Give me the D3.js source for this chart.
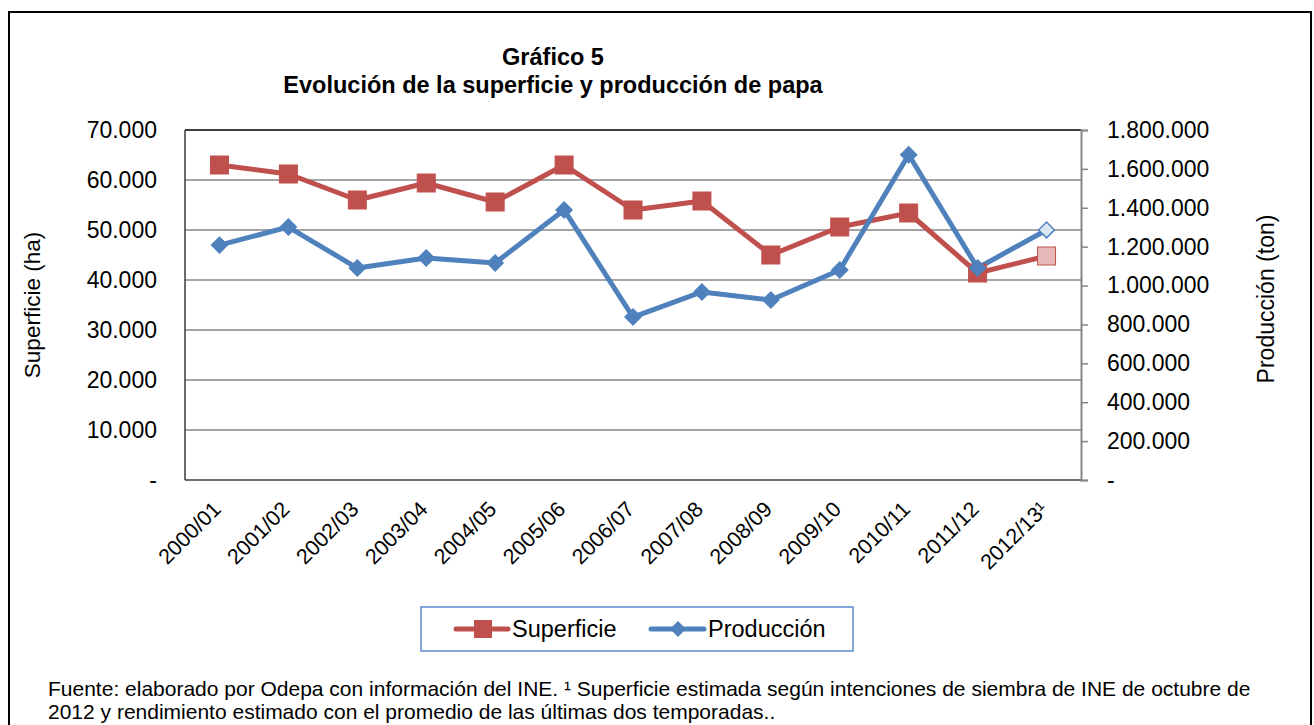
<!DOCTYPE html>
<html>
<head>
<meta charset="utf-8">
<script src="https://cdn.jsdelivr.net/npm/d3@7"></script>
<style>
  body { margin: 0; background: #fff; }
  svg text { font-family: "Liberation Sans", Arial, sans-serif; fill: #000; }
</style>
</head>
<body>
<div id="chart"></div>
<script>
// temporadas
var categories = ["2000/01", "2001/02", "2002/03", "2003/04", "2004/05", "2005/06", "2006/07",
  "2007/08", "2008/09", "2009/10", "2010/11", "2011/12", "2012/13\u00b9"];
// superficie (ha)
var superficie = [63000, 61200, 56000, 59400, 55600, 63000, 54000, 55800, 45000, 50600, 53400, 41400, 44800];
// produccion (ton)
var produccion = [1208000, 1301000, 1090000, 1142000, 1116000, 1389000, 838000, 967000, 926000, 1080000, 1673000, 1090000, 1286000];
var leftTicks = [0, 10000, 20000, 30000, 40000, 50000, 60000, 70000];
var rightTicks = [0, 200000, 400000, 600000, 800000, 1000000, 1200000, 1400000, 1600000, 1800000];

var W = 1314, H = 725;
var RED = "#C0504D", BLUE = "#4F81BD";
var plot = {left: 185, right: 1081, top: 130, bottom: 480};

var loc = d3.formatLocale({decimal: ",", thousands: ".", grouping: [3], currency: ["$", ""]});
var fmt = function(v) { return v === 0 ? "-" : loc.format(",")(v); };

var svg = d3.select("#chart").append("svg")
  .attr("width", W)
  .attr("height", H);

// marco exterior
svg.append("rect")
  .attr("x", 9).attr("y", 12)
  .attr("width", 1302).attr("height", 760)
  .attr("fill", "none")
  .attr("stroke", "#000")
  .attr("stroke-width", 2);

// titulo
svg.append("text")
  .attr("x", 553).attr("y", 65)
  .attr("text-anchor", "middle")
  .style("font-size", "23.5px").style("font-weight", "bold")
  .text("Gráfico 5");
svg.append("text")
  .attr("x", 553).attr("y", 93)
  .attr("text-anchor", "middle")
  .style("font-size", "23.5px").style("font-weight", "bold")
  .text("Evolución de la superficie y producción de papa");

var x = d3.scaleBand().domain(categories).range([plot.left, plot.right]);
var yL = d3.scaleLinear().domain([0, 70000]).range([plot.bottom, plot.top]);
var yR = d3.scaleLinear().domain([0, 1800000]).range([plot.bottom, plot.top]);

// grilla
svg.append("g")
  .selectAll("line")
  .data(leftTicks.slice(1, -1))
  .enter().append("line")
  .attr("x1", plot.left).attr("x2", plot.right)
  .attr("y1", function(d) { return yL(d); })
  .attr("y2", function(d) { return yL(d); })
  .attr("stroke", "#878787")
  .attr("stroke-width", 1.5);

// borde del area
svg.append("line")
  .attr("x1", plot.left).attr("x2", plot.right)
  .attr("y1", plot.top).attr("y2", plot.top)
  .attr("stroke", "#000").attr("stroke-width", 1.5);
svg.append("line")
  .attr("x1", plot.left).attr("x2", plot.right)
  .attr("y1", plot.bottom).attr("y2", plot.bottom)
  .attr("stroke", "#6e6e6e").attr("stroke-width", 2);
svg.append("line")
  .attr("x1", plot.left).attr("x2", plot.left)
  .attr("y1", plot.top).attr("y2", plot.bottom)
  .attr("stroke", "#3a3a3a").attr("stroke-width", 1.5);

// eje izquierdo (solo etiquetas)
svg.append("g")
  .selectAll("text")
  .data(leftTicks)
  .enter().append("text")
  .attr("x", 157)
  .attr("y", function(d) { return yL(d); })
  .attr("dy", "0.35em")
  .attr("text-anchor", "end")
  .style("font-size", "23px")
  .text(fmt);

// eje derecho
var axisR = svg.append("g")
  .attr("transform", "translate(" + plot.right + ",0)")
  .call(d3.axisRight(yR).tickValues(rightTicks).tickFormat(fmt).tickSize(7).tickPadding(19));
axisR.select(".domain").attr("stroke", "#868686").attr("stroke-width", 2);
axisR.selectAll(".tick line").attr("stroke", "#868686").attr("stroke-width", 1.5);
axisR.selectAll(".tick text")
  .style("font-size", "23px")
  .style("font-family", "'Liberation Sans', Arial, sans-serif")
  .attr("fill", "#000");

// etiquetas categorias
svg.append("g")
  .selectAll("text")
  .data(categories)
  .enter().append("text")
  .attr("transform", function(d) {
    return "translate(" + (x(d) + x.bandwidth() / 2 - 8) + "," + (plot.bottom + 20) + ") rotate(-45)";
  })
  .attr("text-anchor", "end")
  .attr("dy", "0.7em")
  .style("font-size", "21.5px")
  .text(function(d) { return d; });

// titulos de eje
svg.append("text")
  .attr("transform", "translate(40,305) rotate(-90)")
  .attr("text-anchor", "middle")
  .style("font-size", "22.5px")
  .text("Superficie (ha)");
svg.append("text")
  .attr("transform", "translate(1274,299) rotate(-90)")
  .attr("text-anchor", "middle")
  .style("font-size", "23px")
  .text("Producción (ton)");

var cx = function(d, i) { return x(categories[i]) + x.bandwidth() / 2; };
var lastIdx = categories.length - 1;

// linea superficie
svg.append("path")
  .datum(superficie)
  .attr("fill", "none")
  .attr("stroke", RED)
  .attr("stroke-width", 5)
  .attr("stroke-linejoin", "round")
  .attr("d", d3.line().x(cx).y(function(d) { return yL(d); }));

// linea produccion
svg.append("path")
  .datum(produccion)
  .attr("fill", "none")
  .attr("stroke", BLUE)
  .attr("stroke-width", 5)
  .attr("stroke-linejoin", "round")
  .attr("d", d3.line().x(cx).y(function(d) { return yR(d); }));

// marcadores superficie
svg.append("g")
  .selectAll("rect")
  .data(superficie)
  .enter().append("rect")
  .attr("x", function(d, i) { return cx(d, i) - 9; })
  .attr("y", function(d) { return yL(d) - 9; })
  .attr("width", 18).attr("height", 18)
  .attr("fill", function(d, i) { return i === lastIdx ? "#E6B9B8" : RED; })
  .attr("stroke", RED)
  .attr("stroke-width", 1);

// marcadores produccion
var diamond = d3.symbol().type(d3.symbolDiamond2).size(160);
svg.append("g")
  .selectAll("path")
  .data(produccion)
  .enter().append("path")
  .attr("d", diamond)
  .attr("transform", function(d, i) { return "translate(" + cx(d, i) + "," + yR(d) + ")"; })
  .attr("fill", function(d, i) { return i === lastIdx ? "#DCE6F2" : BLUE; })
  .attr("stroke", BLUE)
  .attr("stroke-width", 1.5);

// leyenda
var lg = svg.append("g");
lg.append("rect")
  .attr("x", 421).attr("y", 607)
  .attr("width", 432).attr("height", 44)
  .attr("fill", "#fff")
  .attr("stroke", "#5B8BD0")
  .attr("stroke-width", 1.5);
lg.append("line")
  .attr("x1", 456).attr("x2", 508).attr("y1", 629).attr("y2", 629)
  .attr("stroke", RED).attr("stroke-width", 5).attr("stroke-linecap", "round");
lg.append("rect")
  .attr("x", 474).attr("y", 620).attr("width", 18).attr("height", 18)
  .attr("fill", RED);
lg.append("text")
  .attr("x", 512).attr("y", 629).attr("dy", "0.35em")
  .style("font-size", "23.5px")
  .text("Superficie");
lg.append("line")
  .attr("x1", 651).attr("x2", 704).attr("y1", 629).attr("y2", 629)
  .attr("stroke", BLUE).attr("stroke-width", 5).attr("stroke-linecap", "round");
lg.append("path")
  .attr("d", diamond)
  .attr("transform", "translate(678,629)")
  .attr("fill", BLUE);
lg.append("text")
  .attr("x", 708).attr("y", 629).attr("dy", "0.35em")
  .style("font-size", "23.5px")
  .text("Producción");

// nota
svg.append("text")
  .attr("x", 48).attr("y", 696)
  .style("font-size", "21px")
  .text("Fuente: elaborado por Odepa con información del INE. \u00b9 Superficie estimada según intenciones de siembra de INE de octubre de");
svg.append("text")
  .attr("x", 48).attr("y", 719)
  .style("font-size", "21px")
  .text("2012 y rendimiento estimado con el promedio de las últimas dos temporadas..");
</script>
</body>
</html>
